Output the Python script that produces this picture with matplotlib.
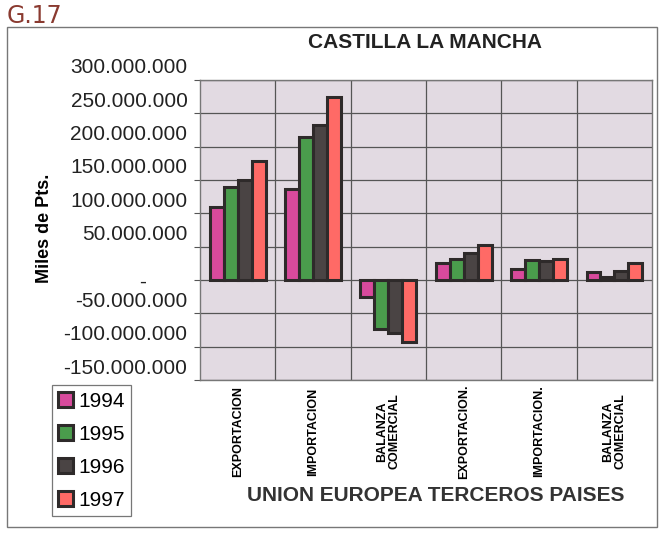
import numpy as np
import matplotlib.pyplot as plt
from matplotlib.patches import Rectangle
from matplotlib.ticker import FuncFormatter
from matplotlib.transforms import ScaledTranslation

plt.rcParams["font.family"] = ["Liberation Sans", "DejaVu Sans"]

categories = ["EXPORTACION", "IMPORTACION", "BALANZA\nCOMERCIAL",
              "EXPORTACION.", "IMPORTACION.", "BALANZA\nCOMERCIAL"]
years = ["1994", "1995", "1996", "1997"]
v1994 = [109e6, 137e6, -26e6, 26e6, 17e6, 12e6]
v1995 = [139e6, 215e6, -74e6, 32e6, 30e6, 5e6]
v1996 = [150e6, 232e6, -79e6, 40e6, 29e6, 13e6]
v1997 = [178e6, 275e6, -93e6, 53e6, 32e6, 25e6]
colors = ["#d84a9c", "#4a9c4c", "#4a4444", "#ff6a66"]

fig = plt.figure(figsize=(6.6, 5.43), dpi=100)
ax = fig.add_axes([0.303, 0.30, 0.685, 0.553])
ax.set_facecolor("#e2dae2")

x = np.arange(len(categories))
w = 0.185
for i, (vals, col, yr) in enumerate(zip([v1994, v1995, v1996, v1997], colors, years)):
    ax.bar(x + (i - 1.5) * w, vals, w, color=col, edgecolor="#2e2a2a",
           linewidth=2.2, label=yr, zorder=3)

ax.set_ylim(-150e6, 300e6)
ax.set_yticks(np.arange(-150e6, 300e6 + 1, 50e6))
ax.yaxis.set_major_formatter(FuncFormatter(
    lambda v, p: "-" + " " * 7 if v == 0 else f"{v:,.0f}".replace(",", ".")))
ax.set_xlim(-0.5, len(categories) - 0.5)
ax.set_xticks(x)
ax.set_xticklabels(categories, rotation=90, fontsize=9, fontweight="bold",
                   linespacing=1.0, va="center")
ax.set_xticks(np.arange(0.5, len(categories) - 0.5), minor=True)
ax.tick_params(axis="x", which="both", length=0, pad=37)
ax.tick_params(axis="y", labelsize=15, length=4, color="#555555", pad=5,
               labelcolor="#222222")
# in the scan the labels sit a little above their grid lines (not the zero dash)
fig.canvas.draw()
for lab in ax.get_yticklabels():
    if lab.get_text().strip() != "-":
        lab.set_transform(lab.get_transform() + ScaledTranslation(0, 0.14, fig.dpi_scale_trans))
ax.grid(axis="y", color="#555555", linewidth=0.9, zorder=0)
ax.grid(axis="x", which="minor", color="#555555", linewidth=0.9, zorder=0)
for s in ax.spines.values():
    s.set_color("#777777")
    s.set_linewidth(1.0)

ax.set_ylabel("Miles de Pts.", fontsize=13, fontweight="bold")
ax.yaxis.set_label_coords(-0.325, 0.507)
fig.text(0.644, 0.921, "CASTILLA LA MANCHA", fontsize=15, fontweight="bold",
         ha="center", va="center", color="#222222")
fig.text(0.66, 0.088, "UNION EUROPEA TERCEROS PAISES", fontsize=15,
         fontweight="bold", ha="center", va="center", color="#333333")

leg = fig.legend(loc="lower left", bbox_to_anchor=(0.079, 0.05), fontsize=15,
                 frameon=True, fancybox=False, edgecolor="#555555",
                 handlelength=0.7, handleheight=0.7, handletextpad=0.25,
                 labelspacing=0.67, borderpad=0.3, borderaxespad=0)
leg.get_frame().set_linewidth(0.9)

fig.text(0.01, 0.957, "G.17", fontsize=17, color="#8a3a30", family="DejaVu Sans")
fig.patches.append(Rectangle((0.011, 0.03), 0.985, 0.92, transform=fig.transFigure,
                             fill=False, edgecolor="#777777", linewidth=1.0))

fig.savefig("out.png", dpi=100)
